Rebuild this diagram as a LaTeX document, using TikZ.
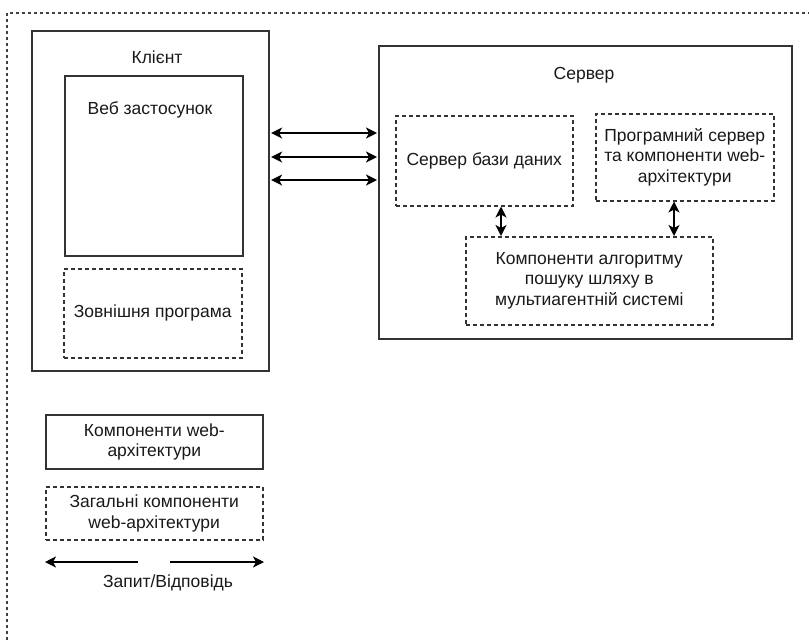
\documentclass[tikz,border=0pt]{standalone}
\usepackage{fontspec}
\setmainfont{Liberation Sans}
\usetikzlibrary{arrows.meta}
\begin{document}
\begin{tikzpicture}[x=1pt,y=-1pt,
  every node/.style={font=\fontsize{17.5}{20.5}\selectfont, text=black!90},
  solidbox/.style={draw=black!80, line width=1.6pt, rectangle, anchor=north west, inner sep=0pt},
  dashbox/.style={draw=black!80, line width=1.5pt, dash pattern=on 4pt off 3pt, rectangle, anchor=north west, inner sep=0pt},
  lbl/.style={align=center, inner sep=0pt},
  biarrow/.style={line width=1.6pt, {Stealth[length=11pt,width=11pt,inset=3pt]}-{Stealth[length=11pt,width=11pt,inset=3pt]}},
  onearrow/.style={line width=1.6pt, -{Stealth[length=11pt,width=11pt,inset=3pt]}}
]
\useasboundingbox (0,0) rectangle (809,641);
\fill[white] (0,0) rectangle (809,641);
% outer frame
\draw[draw=black!75, line width=1.2pt, dash pattern=on 3pt off 3pt] (7,700) -- (7,13) -- (900,13);

% client
\node[solidbox, minimum width=237pt, minimum height=340pt] (client) at (31,30) {};
\node[lbl] (clientlbl) at (157,57) {Клієнт};
\node[solidbox, minimum width=178pt, minimum height=180pt] (web) at (64,75) {};
\node[lbl] (weblbl) at (150,110) {Веб застосунок};
\node[dashbox, minimum width=178pt, minimum height=89pt] (ext) at (63,268) {};
\node[lbl] (extlbl) at (ext.center) {Зовнішня програма};

% server
\node[solidbox, minimum width=413pt, minimum height=293pt] (server) at (378,45) {};
\node[lbl] (serverlbl) at (584,75) {Сервер};
\node[dashbox, minimum width=177pt, minimum height=90pt] (db) at (395,115) {};
\node[lbl] (dblbl) at (db.center) {Сервер бази даних};
\node[dashbox, minimum width=178pt, minimum height=87pt] (app) at (595,113) {};
\node[lbl] (applbl) at (app.center) {Програмний сервер\\та компоненти web-\\архітектури};
\node[dashbox, minimum width=247pt, minimum height=88pt] (alg) at (465,236) {};
\node[lbl] (alglbl) at (alg.center) {Компоненти алгоритму\\пошуку шляху в\\мультиагентній системі};

% connections
\foreach \yy in {133,157,180} {
  \draw[biarrow] ([xshift=1.5pt]client.east |- 0,\yy) -- ([xshift=-1pt]server.west |- 0,\yy);
}
\draw[biarrow] (db.south -| 501,0) -- (alg.north -| 501,0);
\draw[biarrow] (app.south -| 674,0) -- (alg.north -| 674,0);

% legend
\node[solidbox, minimum width=217pt, minimum height=54pt] (legsolid) at (45,414) {};
\node[lbl] (legsolidlbl) at (legsolid.center) {Компоненти web-\\архітектури};
\node[dashbox, minimum width=217pt, minimum height=53pt] (legdash) at (45,486) {};
\node[lbl] (legdashlbl) at (legdash.center) {Загальні компоненти\\web-архітектури};
\coordinate (la1) at (138,562);
\coordinate (la2) at (45,562);
\coordinate (ra1) at (170,562);
\coordinate (ra2) at (264,562);
\draw[onearrow] (la1) -- (la2);
\draw[onearrow] (ra1) -- (ra2);
\node[lbl] (reqlbl) at (168,583) {Запит/Відповідь};
\end{tikzpicture}
\end{document}
